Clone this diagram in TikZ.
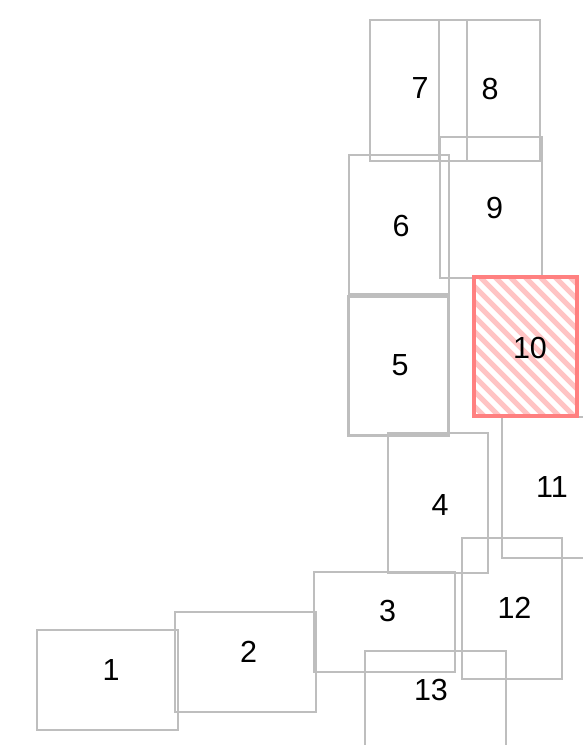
\documentclass[tikz,border=0pt]{standalone}
\usepackage{fontspec}
\setmainfont{Liberation Sans}
\definecolor{boxgray}{HTML}{BEBEBE}
\definecolor{hotred}{HTML}{FF8080}
\definecolor{hatchred}{HTML}{FFC4C4}
\begin{document}
\begin{tikzpicture}[x=1pt,y=-1pt,
  box/.style={draw=boxgray, line width=2.5pt, inner sep=0pt, outer sep=0pt},
  hot/.style={draw=hotred, line width=3.5pt, inner sep=0pt, outer sep=0pt},
  lbl/.style={font=\fontsize{30.5}{36}\selectfont, text=black, inner sep=0pt}]
\useasboundingbox (0,0) rectangle (582,745);
% gray boxes
\node[box, minimum width=141pt, minimum height=100pt] (b1) at (107.5,680) {};
\node[box, minimum width=141pt, minimum height=100pt] (b2) at (245.5,662) {};
\node[box, minimum width=141pt, minimum height=100pt] (b3) at (384.5,622) {};
\node[box, minimum width=100pt, minimum height=140pt] (b4) at (438,503) {};
\node[box, minimum width=100pt, minimum height=139pt] (b5) at (398.5,366) {};
\node[box, minimum width=100pt, minimum height=139pt] (b6) at (399,224.5) {};
\node[box, minimum width=97pt, minimum height=141pt] (b7) at (418.5,90.5) {};
\node[box, minimum width=101pt, minimum height=141pt] (b8) at (489.5,90.5) {};
\node[box, minimum width=102pt, minimum height=141pt] (b9) at (491,207.5) {};
\node[box, minimum width=100pt, minimum height=141pt] (b11) at (552,487.5) {};
\node[box, minimum width=100pt, minimum height=141pt] (b12) at (512,608.5) {};
\node[box, minimum width=141pt, minimum height=100pt] (b13) at (435.5,701) {};
% highlighted box 10
\node[minimum width=103pt, minimum height=139pt, inner sep=0pt, outer sep=0pt, fill=white] (b10) at (525.5,346.5) {};
\begin{scope}
  \clip (b10.north west) rectangle (b10.south east);
  \foreach \k in {-12,...,8} {
    \draw[hatchred, line width=5pt] (480+15*\k,262) -- (480+15*\k+170,432);
  }
\end{scope}
\node[hot, minimum width=103pt, minimum height=139pt] at (b10) {};
% labels
\node[lbl] (l1) at (111,670) {1};
\node[lbl] (l2) at (248.5,651.5) {2};
\node[lbl] (l3) at (387.5,611) {3};
\node[lbl] (l4) at (440,505) {4};
\node[lbl] (l5) at (400,365) {5};
\node[lbl] (l6) at (401,225.5) {6};
\node[lbl] (l7) at (420,88.5) {7};
\node[lbl] (l8) at (490,88.5) {8};
\node[lbl] (l9) at (494.5,208) {9};
\node[lbl] (l10) at (530,348) {10};
\node[lbl] (l11) at (552,487) {11};
\node[lbl] (l12) at (514.5,608) {12};
\node[lbl] (l13) at (431,690) {13};
\end{tikzpicture}
\end{document}
